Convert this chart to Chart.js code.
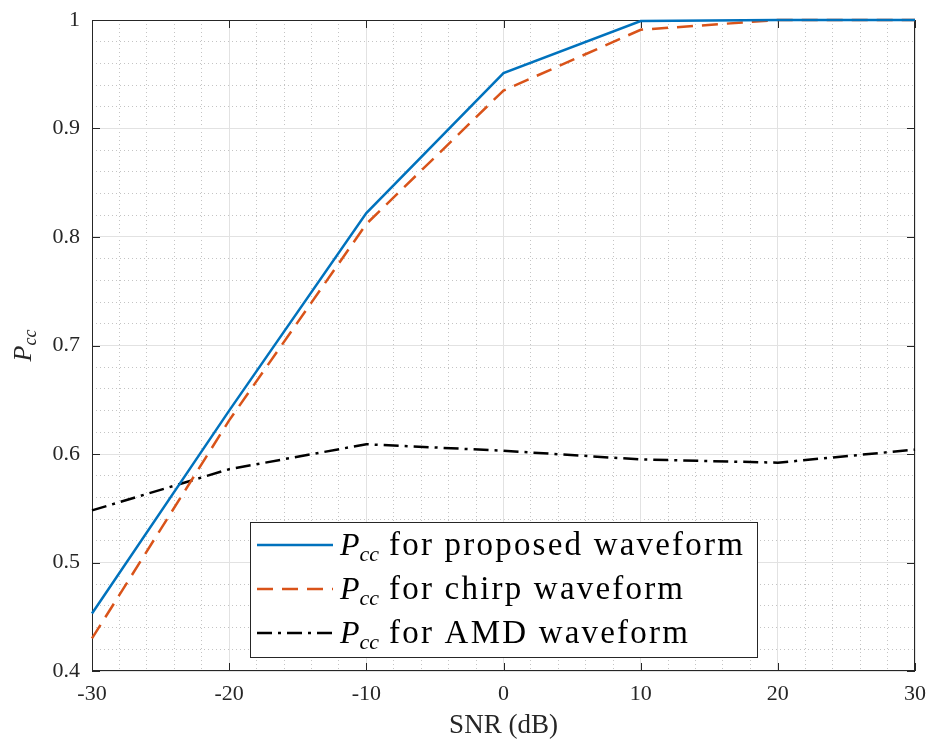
<!DOCTYPE html>
<html>
<head>
<meta charset="utf-8">
<script src="https://cdn.jsdelivr.net/npm/chart.js@4.4.0/dist/chart.umd.min.js"></script>
<style>
  html, body { margin: 0; padding: 0; background: #fff; }
</style>
</head>
<body>
<canvas id="myChart" width="930" height="746"></canvas>
<script>
// data
const snr = [-30, -20, -10, 0, 10, 20, 30];
const proposed = [0.453, 0.640, 0.822, 0.951, 0.999, 1.0, 1.0];
const chirp = [0.430, 0.631, 0.812, 0.935, 0.991, 1.0, 1.0];
const amd = [0.548, 0.586, 0.609, 0.603, 0.595, 0.592, 0.604];
const seriesNames = ['for proposed waveform', 'for chirp waveform', 'for AMD waveform'];
const xTicks = [-30, -20, -10, 0, 10, 20, 30];
const yTicks = [0.4, 0.5, 0.6, 0.7, 0.8, 0.9, 1];

const SERIF = '"Liberation Serif", "DejaVu Serif", serif';
const AX = '#262626';

const pts = ys => snr.map((x, i) => ({ x: x, y: ys[i] }));

// keep minor lines off the major positions
const isMajor = (v, step) => Math.abs(v / step - Math.round(v / step)) < 1e-6;

// box, inner ticks, y title, legend
const matlabLook = {
  id: 'matlabLook',
  beforeDatasetsDraw(chart) {
    const { ctx, chartArea: a, scales } = chart;
    ctx.save();
    ctx.strokeStyle = AX;
    ctx.lineWidth = 1;
    ctx.beginPath();
    xTicks.forEach(v => {
      const px = Math.round(scales.x.getPixelForValue(v)) + 0.5;
      ctx.moveTo(px, a.bottom); ctx.lineTo(px, a.bottom - 8);
      ctx.moveTo(px, a.top); ctx.lineTo(px, a.top + 8);
    });
    yTicks.forEach(v => {
      const py = Math.round(scales.y.getPixelForValue(v)) + 0.5;
      ctx.moveTo(a.left, py); ctx.lineTo(a.left + 8, py);
      ctx.moveTo(a.right, py); ctx.lineTo(a.right - 8, py);
    });
    ctx.stroke();
    ctx.strokeRect(a.left + 0.5, a.top + 0.5, a.right - a.left - 1, a.bottom - a.top - 1);
    ctx.restore();
  },
  afterDraw(chart) {
    const { ctx, chartArea: a } = chart;
    ctx.save();
    // y axis title P_cc
    ctx.fillStyle = AX;
    ctx.translate(31, (a.top + a.bottom) / 2);
    ctx.rotate(-Math.PI / 2);
    ctx.font = 'italic 26px ' + SERIF;
    const wP = ctx.measureText('P').width;
    ctx.font = 'italic 18px ' + SERIF;
    const wC = ctx.measureText('cc').width;
    const x0 = -(wP + wC) / 2;
    ctx.textBaseline = 'alphabetic';
    ctx.font = 'italic 26px ' + SERIF;
    ctx.fillText('P', x0, 0);
    ctx.font = 'italic 18px ' + SERIF;
    ctx.fillText('cc', x0 + wP, 5);
    ctx.restore();

    // legend
    ctx.save();
    const bx = a.left + 158, by = a.bottom - 149, bw = 507, bh = 135;
    ctx.fillStyle = '#fff';
    ctx.fillRect(bx, by, bw, bh);
    ctx.strokeStyle = AX;
    ctx.lineWidth = 1;
    ctx.strokeRect(bx + 0.5, by + 0.5, bw, bh);
    chart.data.datasets.forEach((ds, i) => {
      const cy = by + 23 + i * 44;
      ctx.strokeStyle = ds.borderColor;
      ctx.lineWidth = ds.borderWidth;
      ctx.setLineDash(ds.borderDash || []);
      ctx.beginPath();
      ctx.moveTo(bx + 7, cy);
      ctx.lineTo(bx + 83, cy);
      ctx.stroke();
      ctx.setLineDash([]);
      ctx.fillStyle = '#000';
      ctx.textBaseline = 'alphabetic';
      let tx = bx + 90;
      const base = cy + 10;
      ctx.letterSpacing = '0px';
      ctx.font = 'italic 32px ' + SERIF;
      ctx.fillText('P', tx, base);
      tx += ctx.measureText('P').width;
      ctx.font = 'italic 22px ' + SERIF;
      ctx.fillText('cc', tx, base + 6);
      tx += ctx.measureText('cc').width + 10;
      ctx.font = '33px ' + SERIF;
      ctx.letterSpacing = '2.2px';
      ctx.fillText(seriesNames[i], tx, base);
    });
    ctx.restore();
  }
};

new Chart(document.getElementById('myChart'), {
  type: 'line',
  data: {
    datasets: [
      { label: seriesNames[0], data: pts(proposed), borderColor: '#0072BD', borderWidth: 2.5, borderDash: [], clip: false },
      { label: seriesNames[1], data: pts(chirp), borderColor: '#D95319', borderWidth: 2.5, borderDash: [16, 9], clip: false },
      { label: seriesNames[2], data: pts(amd), borderColor: '#000000', borderWidth: 2.5, borderDash: [15, 6, 3, 6], clip: false }
    ]
  },
  options: {
    responsive: false,
    animation: false,
    layout: { padding: { left: 0, right: 15, top: 20, bottom: 0 } },
    elements: { point: { radius: 0 }, line: { tension: 0, borderCapStyle: 'butt' } },
    plugins: { legend: { display: false }, tooltip: { enabled: false } },
    scales: {
      xMinor: {
        type: 'linear', position: 'bottom', min: -30, max: 30,
        ticks: { display: false, stepSize: 2 },
        grid: { drawTicks: false, color: c => isMajor(c.tick.value, 10) ? 'rgba(0,0,0,0)' : '#c4c4c4', lineWidth: 1 },
        border: { display: false, dash: [1, 3] },
        afterFit: s => { s.height = 0; s.paddingLeft = 0; s.paddingRight = 0; }
      },
      yMinor: {
        type: 'linear', position: 'left', min: 0.4, max: 1,
        ticks: { display: false, stepSize: 0.02 },
        grid: { drawTicks: false, color: c => isMajor(c.tick.value, 0.1) ? 'rgba(0,0,0,0)' : '#c4c4c4', lineWidth: 1 },
        border: { display: false, dash: [1, 3] },
        afterFit: s => { s.width = 0; s.paddingTop = 0; s.paddingBottom = 0; }
      },
      x: {
        type: 'linear', position: 'bottom', min: -30, max: 30,
        afterBuildTicks: s => { s.ticks = xTicks.map(v => ({ value: v })); },
        ticks: { color: AX, font: { family: SERIF, size: 22 }, padding: 10, maxRotation: 0, callback: v => String(v) },
        grid: { drawTicks: false, color: '#e2e2e2', lineWidth: 1 },
        border: { display: false },
        title: { display: true, text: 'SNR (dB)', color: AX, font: { family: SERIF, size: 27 }, padding: { top: 0, bottom: 4 } },
        afterFit: s => { s.height = 75; s.paddingLeft = 0; s.paddingRight = 0; }
      },
      y: {
        type: 'linear', position: 'left', min: 0.4, max: 1,
        afterBuildTicks: s => { s.ticks = yTicks.map(v => ({ value: v })); },
        ticks: { color: AX, font: { family: SERIF, size: 22 }, padding: 12, callback: v => String(v) },
        grid: { drawTicks: false, color: '#e2e2e2', lineWidth: 1 },
        border: { display: false },
        afterFit: s => { s.width = 92; s.paddingTop = 0; s.paddingBottom = 0; }
      }
    }
  },
  plugins: [matlabLook]
});
</script>
</body>
</html>
